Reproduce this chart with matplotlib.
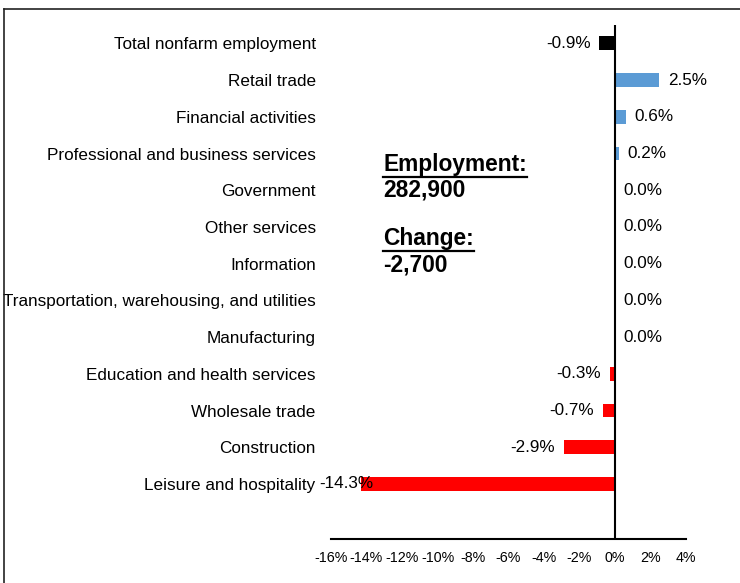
import numpy as np
import matplotlib
matplotlib.use("Agg")
import matplotlib.pyplot as plt
from matplotlib.lines import Line2D

plt.rcParams['font.family'] = ['Liberation Sans', 'DejaVu Sans']

categories = ["Total nonfarm employment", "Retail trade", "Financial activities",
    "Professional and business services", "Government", "Other services",
    "Information", "Transportation, warehousing, and utilities", "Manufacturing",
    "Education and health services", "Wholesale trade", "Construction",
    "Leisure and hospitality"]
changes = [-0.9, 2.5, 0.6, 0.2, 0.0, 0.0, 0.0, 0.0, 0.0, -0.3, -0.7, -2.9, -14.3]
xticks = [-16, -14, -12, -10, -8, -6, -4, -2, 0, 2, 4]
employment = "282,900"
change_total = "-2,700"

fig = plt.figure(figsize=(7.4, 5.83), dpi=100)
ax = fig.add_axes([331/740, 1 - 539/583, 355/740, 514/583])

colors = []
for i, v in enumerate(changes):
    if i == 0:
        colors.append("black")
    elif v > 0:
        colors.append("#5B9BD5")
    else:
        colors.append("#FF0000")

y = np.arange(len(categories))
ax.barh(y, changes, height=0.38, color=colors)

ax.set_xlim(-16, 4)
ax.set_ylim(13.5, -0.5)
ax.set_xticks(xticks)
ax.set_xticklabels([f"{t}%" for t in xticks], fontsize=10.3)
ax.tick_params(axis="x", length=0, pad=9)
ax.set_yticks(y)
ax.set_yticklabels(categories, fontsize=12.3)
ax.tick_params(axis="y", length=0, pad=11)

for s in ["top", "right", "left"]:
    ax.spines[s].set_visible(False)
ax.spines["bottom"].set_linewidth(1.5)
ax.axvline(0, color="black", linewidth=1.5)

# data labels
for i, v in enumerate(changes):
    lab = f"{v:.1f}%"
    if v < -12:
        ax.text(v + 0.7, i, lab, ha="right", va="center", fontsize=12.3)
    elif v < 0:
        ax.annotate(lab, (v, i), xytext=(-6, 0), textcoords="offset points",
                    ha="right", va="center", fontsize=12.3)
    else:
        ax.annotate(lab, (v, i), xytext=(6, 0), textcoords="offset points",
                    ha="left", va="center", fontsize=12.3)

# summary text
t1 = fig.text(383/740, 1 - 165/583, "Employment:", fontsize=16.4, fontweight="bold", va="center")
fig.text(383/740, 1 - 190/583, employment, fontsize=16.4, fontweight="bold", va="center")
t2 = fig.text(383/740, 1 - 239/583, "Change:", fontsize=16.4, fontweight="bold", va="center")
fig.text(383/740, 1 - 265/583, change_total, fontsize=16.4, fontweight="bold", va="center")

fig.canvas.draw()
r = fig.canvas.get_renderer()
for t in [t1, t2]:
    bb = t.get_window_extent(r)
    yl = bb.y0 - 1
    fig.add_artist(Line2D([bb.x0 / 740, bb.x1 / 740], [yl / 583, yl / 583],
                          color="black", linewidth=1.6, transform=fig.transFigure))

# outer frame (top and left)
fig.add_artist(Line2D([4/740, 1], [1 - 9/583, 1 - 9/583], color="#222222", linewidth=1.2))
fig.add_artist(Line2D([4/740, 4/740], [0, 1 - 9/583], color="#222222", linewidth=1.2))

fig.savefig("out.png", dpi=100)
